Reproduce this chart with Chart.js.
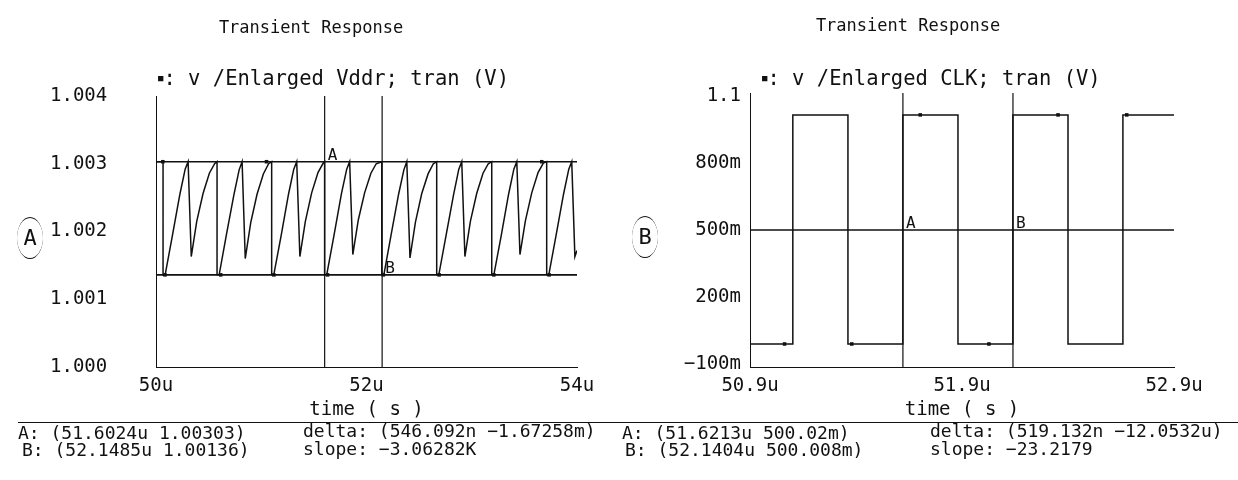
<!DOCTYPE html>
<html>
<head>
<meta charset="utf-8">
<script src="https://cdn.jsdelivr.net/npm/chart.js@4.4.1/dist/chart.umd.min.js"></script>
<style>
  body { margin: 0; background: #fff; width: 1238px; height: 480px; overflow: hidden; position: relative;
         font-family: "DejaVu Sans Mono", monospace; color: #111; }
  canvas { position: absolute; top: 0; }
  .t { position: absolute; white-space: pre; line-height: 1; }
  .c { transform: translate(-50%, -50%); }
  .m { transform: translate(0, -50%); }
  .sq { font-size: 9px; vertical-align: middle; }
  .ring { position: absolute; width: 26px; height: 40px; border-top: 1.5px solid #111; border-bottom: 1.5px solid #111;
          border-radius: 50%; transform: translate(-50%, -50%); font-size: 22px; text-align: center; line-height: 40px; }
  .rule { position: absolute; left: 18px; width: 1220px; top: 422px; border-top: 1.5px solid #111; }
</style>
</head>
<body>
<canvas id="vddr" width="620" height="440" style="left:0"></canvas>
<canvas id="clk" width="618" height="440" style="left:620px"></canvas>

<div class="t c" style="left:311px;top:27px;font-size:17px">Transient Response</div>
<div class="t c" style="left:908px;top:25px;font-size:17px">Transient Response</div>
<div class="t m" style="left:158px;top:78px;font-size:20.5px"><span class="sq">■</span>: v /Enlarged Vddr; tran (V)</div>
<div class="t m" style="left:762px;top:78px;font-size:20.5px"><span class="sq">■</span>: v /Enlarged CLK; tran (V)</div>
<div class="ring" style="left:30px;top:238px">A</div>
<div class="ring" style="left:645px;top:237px">B</div>

<div class="rule"></div>
<div class="t m" style="left:18px;top:433px;font-size:18px">A: (51.6024u 1.00303)</div>
<div class="t m" style="left:22px;top:450px;font-size:18px">B: (52.1485u 1.00136)</div>
<div class="t m" style="left:303px;top:431px;font-size:18px">delta: (546.092n −1.67258m)</div>
<div class="t m" style="left:303px;top:449px;font-size:18px">slope: −3.06282K</div>
<div class="t m" style="left:622px;top:433px;font-size:18px">A: (51.6213u 500.02m)</div>
<div class="t m" style="left:625px;top:450px;font-size:18px">B: (52.1404u 500.008m)</div>
<div class="t m" style="left:930px;top:431px;font-size:18px">delta: (519.132n −12.0532u)</div>
<div class="t m" style="left:930px;top:449px;font-size:18px">slope: −23.2179</div>

<script>
// ---- left panel: Vddr (time in u, value in V)
const vddrTime = [
  50.000,
  50.067, 50.067, 50.087, 50.157, 50.227, 50.277, 50.305, 50.335, 50.387, 50.447, 50.507, 50.557,
  50.580, 50.580, 50.600, 50.670, 50.740, 50.790, 50.818, 50.848, 50.900, 50.960, 51.020, 51.070,
  51.099, 51.099, 51.119, 51.189, 51.259, 51.309, 51.337, 51.367, 51.419, 51.479, 51.539, 51.589,
  51.602, 51.602, 51.622, 51.692, 51.762, 51.812, 51.840, 51.870, 51.922, 51.982, 52.042, 52.092,
  52.145, 52.145, 52.165, 52.235, 52.305, 52.355, 52.383, 52.413, 52.465, 52.525, 52.585, 52.635,
  52.667, 52.667, 52.687, 52.757, 52.827, 52.877, 52.905, 52.935, 52.987, 53.047, 53.107, 53.157,
  53.190, 53.190, 53.210, 53.280, 53.350, 53.400, 53.428, 53.458, 53.510, 53.570, 53.630, 53.680,
  53.712, 53.712, 53.732, 53.802, 53.872, 53.922, 53.950, 53.980, 54.000
];
const vddrValue = [
  1.00303,
  1.00303, 1.00136, 1.00136, 1.00195, 1.00255, 1.00292, 1.00303, 1.00163, 1.00215, 1.00256, 1.00286, 1.00300,
  1.00303, 1.00136, 1.00136, 1.00196, 1.00254, 1.00291, 1.00303, 1.00160, 1.00213, 1.00255, 1.00285, 1.00300,
  1.00303, 1.00136, 1.00136, 1.00194, 1.00255, 1.00292, 1.00303, 1.00163, 1.00215, 1.00257, 1.00287, 1.00301,
  1.00303, 1.00136, 1.00136, 1.00195, 1.00256, 1.00292, 1.00303, 1.00166, 1.00217, 1.00257, 1.00286, 1.00300,
  1.00303, 1.00136, 1.00136, 1.00196, 1.00255, 1.00291, 1.00303, 1.00161, 1.00214, 1.00256, 1.00285, 1.00300,
  1.00303, 1.00136, 1.00136, 1.00195, 1.00254, 1.00292, 1.00303, 1.00163, 1.00215, 1.00256, 1.00286, 1.00300,
  1.00303, 1.00136, 1.00136, 1.00194, 1.00255, 1.00292, 1.00303, 1.00166, 1.00216, 1.00257, 1.00287, 1.00301,
  1.00303, 1.00136, 1.00136, 1.00195, 1.00255, 1.00292, 1.00303, 1.00163, 1.00172
];
const vddrLevelTime = [50, 54];
const vddrTopLevel = [1.00303, 1.00303];
const vddrBottomLevel = [1.00136, 1.00136];
const vddrMarkTime = [50.065, 51.050, 53.665, 50.085, 50.615, 51.120, 51.630, 52.160, 52.690, 53.210, 53.735];
const vddrMarkValue = [1.00303, 1.00303, 1.00303, 1.00136, 1.00136, 1.00136, 1.00136, 1.00136, 1.00136, 1.00136, 1.00136];
const vddrCursors = [51.6024, 52.1485];
const vddrYTicks = [1.000, 1.001, 1.002, 1.003, 1.004];
const vddrYLabels = ['1.000', '1.001', '1.002', '1.003', '1.004'];
const vddrXTicks = [50, 52, 54];
const vddrXLabels = ['50u', '52u', '54u'];

// ---- right panel: CLK
const clkTime = [50.9, 51.102, 51.102, 51.362, 51.362, 51.621, 51.621, 51.881, 51.881,
  52.140, 52.140, 52.400, 52.400, 52.659, 52.659, 52.9];
const clkValue = [-0.01, -0.01, 1.015, 1.015, -0.01, -0.01, 1.015, 1.015, -0.01,
  -0.01, 1.015, 1.015, -0.01, -0.01, 1.015, 1.015];
const clkLevelTime = [50.9, 52.9];
const clkMidLevel = [0.5, 0.5];
const clkMarkTime = [51.063, 51.380, 51.703, 52.027, 52.353, 52.677];
const clkMarkValue = [-0.01, -0.01, 1.015, -0.01, 1.015, 1.015];
const clkCursors = [51.6213, 52.1404];
const clkYTicks = [-0.1, 0.2, 0.5, 0.8, 1.1];
const clkYLabels = ['−100m', '200m', '500m', '800m', '1.1'];
const clkXTicks = [50.9, 51.9, 52.9];
const clkXLabels = ['50.9u', '51.9u', '52.9u'];

const FONT = '"DejaVu Sans Mono", monospace';
const INK = '#111';

function pts(xs, ys) {
  return xs.map((x, i) => ({ x: x, y: ys[i] }));
}

function lineSet(data, width) {
  return { data: data, borderColor: INK, borderWidth: width, pointRadius: 0, tension: 0, fill: false };
}

// draws the cursor letters next to the cursor lines
const cursorText = {
  id: 'cursorText',
  afterDatasetsDraw(chart, args, opts) {
    const { ctx } = chart;
    const x = chart.scales.x, y = chart.scales.y;
    ctx.save();
    ctx.font = '16px ' + FONT;
    ctx.fillStyle = INK;
    ctx.textBaseline = 'alphabetic';
    opts.items.forEach((it) => {
      ctx.fillText(it.text, x.getPixelForValue(it.x) + 3, y.getPixelForValue(it.y) - 2);
    });
    ctx.restore();
  }
};

function makeChart(id, cfg) {
  const datasets = [
    lineSet(pts(cfg.time, cfg.value), 1.5),
  ];
  cfg.levels.forEach((lv) => datasets.push(lineSet(pts(cfg.levelTime, lv), 1.6)));
  cfg.cursors.forEach((c) => datasets.push(lineSet([{ x: c, y: cfg.yMin }, { x: c, y: cfg.yMax }], 1.2)));
  datasets.push({
    data: pts(cfg.markTime, cfg.markValue), showLine: false, pointStyle: 'rect',
    pointRadius: 2.5, backgroundColor: INK, borderColor: INK, borderWidth: 0
  });

  return new Chart(document.getElementById(id), {
    type: 'line',
    data: { datasets: datasets },
    options: {
      responsive: false,
      animation: false,
      events: [],
      layout: { padding: cfg.padding },
      plugins: {
        legend: { display: false },
        tooltip: { enabled: false },
        cursorText: { items: cfg.cursorLabels }
      },
      scales: {
        x: {
          type: 'linear',
          min: cfg.xMin,
          max: cfg.xMax,
          afterBuildTicks: (axis) => { axis.ticks = cfg.xTicks.map((v) => ({ value: v })); },
          afterFit: (axis) => { axis.height = 73; },
          grid: { display: false, drawTicks: false },
          border: { display: true, color: INK, width: 1, dash: [1, 2] },
          ticks: {
            autoSkip: false, maxRotation: 0, padding: 8, color: INK,
            font: { family: FONT, size: 19 },
            callback: (v, i) => cfg.xLabels[i]
          },
          title: {
            display: true, text: 'time ( s )', color: INK,
            font: { family: FONT, size: 19 }, padding: { top: 0, bottom: 19 }
          }
        },
        y: {
          type: 'linear',
          min: cfg.yMin,
          max: cfg.yMax,
          afterBuildTicks: (axis) => { axis.ticks = cfg.yTicks.map((v) => ({ value: v })); },
          afterFit: (axis) => { axis.width = cfg.yWidth; },
          grid: { display: false, drawTicks: false },
          border: { display: true, color: INK, width: 1, dash: [1, 2] },
          ticks: {
            autoSkip: false, padding: 9, color: INK, crossAlign: cfg.yAlign,
            font: { family: FONT, size: 19 },
            callback: (v, i) => cfg.yLabels[i]
          }
        }
      }
    },
    plugins: [cursorText]
  });
}

makeChart('vddr', {
  time: vddrTime, value: vddrValue,
  levelTime: vddrLevelTime, levels: [vddrTopLevel, vddrBottomLevel],
  markTime: vddrMarkTime, markValue: vddrMarkValue,
  cursors: vddrCursors,
  cursorLabels: [
    { text: 'A', x: vddrCursors[0], y: vddrTopLevel[0] },
    { text: 'B', x: vddrCursors[1], y: vddrBottomLevel[0] }
  ],
  xMin: 50, xMax: 54, yMin: 1.000, yMax: 1.004,
  xTicks: vddrXTicks, xLabels: vddrXLabels,
  yTicks: vddrYTicks, yLabels: vddrYLabels,
  yWidth: 106, yAlign: 'far',
  padding: { left: 50, right: 43, top: 96, bottom: 0 }
});

makeChart('clk', {
  time: clkTime, value: clkValue,
  levelTime: clkLevelTime, levels: [clkMidLevel],
  markTime: clkMarkTime, markValue: clkMarkValue,
  cursors: clkCursors,
  cursorLabels: [
    { text: 'A', x: clkCursors[0], y: clkMidLevel[0] },
    { text: 'B', x: clkCursors[1], y: clkMidLevel[0] }
  ],
  xMin: 50.9, xMax: 52.9, yMin: -0.113, yMax: 1.113,
  xTicks: clkXTicks, xLabels: clkXLabels,
  yTicks: clkYTicks, yLabels: clkYLabels,
  yWidth: 130, yAlign: 'near',
  padding: { left: 0, right: 64, top: 93, bottom: 0 }
});
</script>
</body>
</html>
